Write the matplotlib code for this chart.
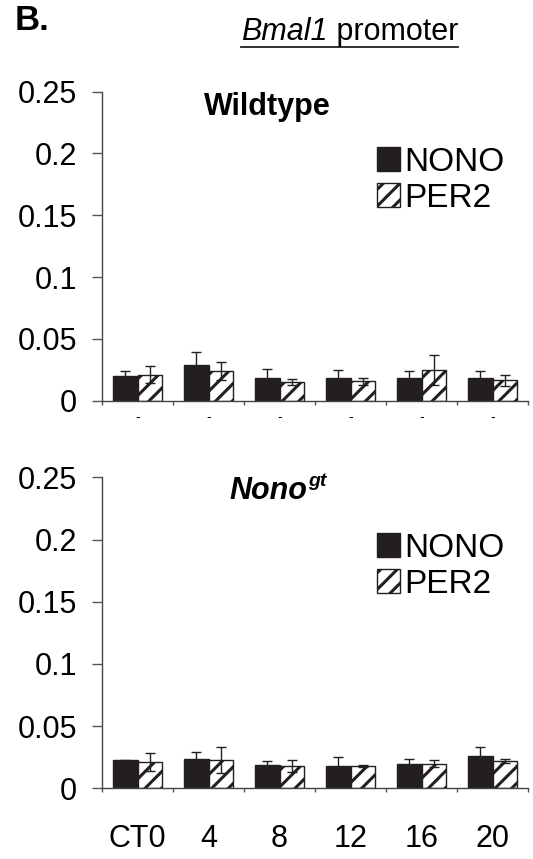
import matplotlib
matplotlib.use("Agg")
import matplotlib.pyplot as plt
import numpy as np
from matplotlib.lines import Line2D

plt.rcParams['font.family'] = ['Liberation Sans', 'DejaVu Sans']
plt.rcParams['hatch.linewidth'] = 2.2

categories = ["CT0", "4", "8", "12", "16", "20"]
top_labels = ["-", "-", "-", "-", "-", "-"]
yticks = [0, 0.05, 0.1, 0.15, 0.2, 0.25]
ytick_labels = ["0", "0.05", "0.1", "0.15", "0.2", "0.25"]

wt_nono = [0.020, 0.0285, 0.018, 0.018, 0.018, 0.018]
wt_nono_err = [0.004, 0.0105, 0.008, 0.0068, 0.006, 0.006]
wt_per2 = [0.021, 0.024, 0.015, 0.0158, 0.025, 0.0166]
wt_per2_err = [0.007, 0.007, 0.0024, 0.0029, 0.012, 0.0044]

gt_nono = [0.0225, 0.0239, 0.019, 0.018, 0.0198, 0.0263]
gt_nono_err = [0.0006, 0.0051, 0.0027, 0.0072, 0.0041, 0.0071]
gt_per2 = [0.0208, 0.023, 0.018, 0.018, 0.0198, 0.022]
gt_per2_err = [0.0072, 0.0104, 0.0045, 0.0005, 0.0027, 0.0019]

W, H = 533, 859
fig = plt.figure(figsize=(W / 100, H / 100), dpi=100)

def fx(px):
    return px / W

def fy(py):
    return 1 - py / H

ax1 = fig.add_axes([fx(102), fy(400.7), fx(528) - fx(102), fy(91.7) - fy(400.7)])
ax2 = fig.add_axes([fx(102), fy(788.3), fx(528) - fx(102), fy(477.3) - fy(788.3)])

x = np.arange(len(categories))
bw = 0.34

def draw(ax, nono, nono_err, per2, per2_err, labels, pad, lsize):
    ax.bar(x - bw / 2, nono, bw, color='#231f20', edgecolor='#231f20', linewidth=1, label='NONO')
    ax.bar(x + bw / 2, per2, bw, color='white', edgecolor='#231f20', hatch='//', linewidth=1, label='PER2')
    ax.errorbar(x - bw / 2, nono, yerr=nono_err, fmt='none', ecolor='#231f20', elinewidth=1, capsize=3.5, capthick=1)
    ax.errorbar(x + bw / 2, per2, yerr=per2_err, fmt='none', ecolor='#231f20', elinewidth=1, capsize=3.5, capthick=1)
    ax.set_xlim(-0.5, len(categories) - 0.5)
    ax.set_ylim(0, 0.25)
    ax.set_yticks(yticks)
    ax.set_yticklabels(ytick_labels)
    ax.set_xticks(x)
    ax.set_xticklabels(labels)
    ax.set_xticks(np.arange(len(categories) + 1) - 0.5, minor=True)
    ax.tick_params(axis='x', which='major', length=0, pad=pad, labelsize=lsize)
    ax.tick_params(axis='x', which='minor', length=3, width=1, direction='out', color='#555555')
    ax.tick_params(axis='y', length=7, width=1, pad=11, labelsize=22, color='#555555')
    for s in ['top', 'right']:
        ax.spines[s].set_visible(False)
    for s in ['left', 'bottom']:
        ax.spines[s].set_color('#444444')
        ax.spines[s].set_linewidth(1)
    ax.legend(loc='upper left', bbox_to_anchor=(0.6455, 0.822), frameon=False,
              fontsize=24, handlelength=0.7, handleheight=0.7, handletextpad=0.12,
              labelspacing=0.15, borderpad=0, borderaxespad=0)

draw(ax1, wt_nono, wt_nono_err, wt_per2, wt_per2_err, top_labels, 7, 10)
draw(ax2, gt_nono, gt_nono_err, gt_per2, gt_per2_err, categories, 26, 22)

# Panel letter
fig.text(fx(15), fy(21), "B.", fontsize=25, fontweight='bold', ha='left', va='center')

# Title with underline
t1 = fig.text(fx(241), fy(32), "Bmal1", fontsize=22, style='italic', ha='left', va='center')
fig.canvas.draw()
r = fig.canvas.get_renderer()
bb = t1.get_window_extent(r)
t2 = fig.text(bb.x1 / W, fy(32), " promoter", fontsize=22, ha='left', va='center')
fig.canvas.draw()
bb2 = t2.get_window_extent(r)
fig.add_artist(Line2D([fx(241), bb2.x1 / W], [fy(47), fy(47)], color='#231f20', linewidth=1.3,
                      transform=fig.transFigure))

# Panel labels
fig.text(fx(267), fy(107), "Wildtype", fontsize=22, fontweight='bold', ha='center', va='center')
n1 = fig.text(fx(229), fy(491), "Nono", fontsize=22, fontweight='bold', style='italic', ha='left', va='center')
fig.canvas.draw()
bb3 = n1.get_window_extent(r)
fig.text(bb3.x1 / W + 0.002, fy(482), "gt", fontsize=14, fontweight='bold', style='italic', ha='left', va='center')

fig.savefig("out.png", dpi=100)
